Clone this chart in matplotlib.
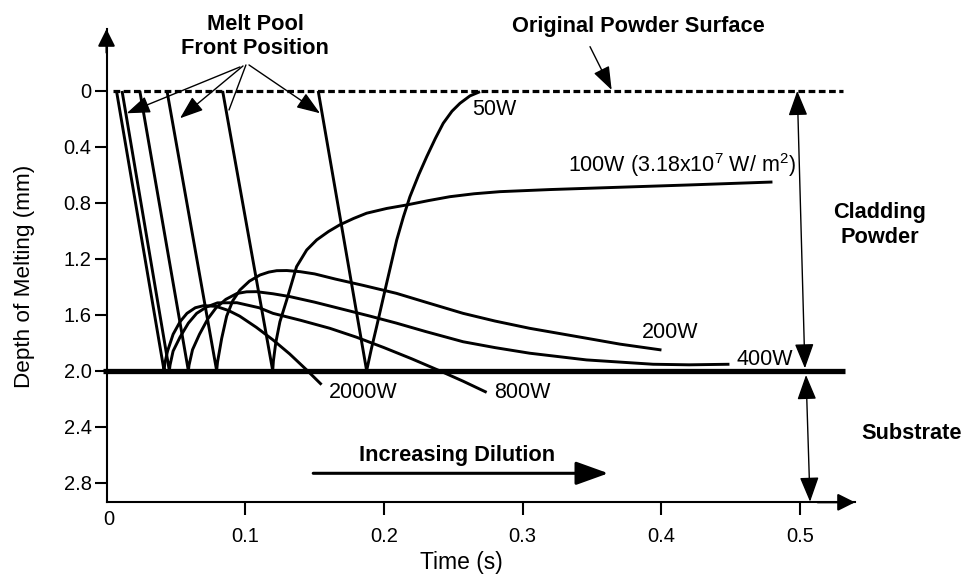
import matplotlib
matplotlib.use('Agg')
import matplotlib.pyplot as plt

plt.rcParams['font.family'] = ['Liberation Sans', 'DejaVu Sans']
plt.rcParams['mathtext.fontset'] = 'custom'
plt.rcParams['mathtext.rm'] = 'Liberation Sans'
plt.rcParams['mathtext.it'] = 'Liberation Sans:italic'
plt.rcParams['mathtext.bf'] = 'Liberation Sans:bold'

# ---------------- data ----------------
powers = ['2000W', '800W', '400W', '200W', '100W', '50W']
surface_depth = 0.0      # original powder surface (mm)
substrate_depth = 2.0    # powder / substrate interface (mm)

# time at which the melt front leaves the surface (depth 0)
front_start_t = [0.0072, 0.0112, 0.0240, 0.0436, 0.0837, 0.1526]

# solidification curves (first point = melt front reaching the substrate)
t_2000 = [0.0415, 0.0420, 0.0440, 0.0480, 0.0530, 0.0580, 0.0640, 0.0700, 0.0790,
          0.0880, 0.0960, 0.1080, 0.1200, 0.1320, 0.1443, 0.1550]
d_2000 = [2.00, 1.95, 1.86, 1.74, 1.65, 1.59, 1.55, 1.535, 1.54,
          1.57, 1.61, 1.69, 1.78, 1.88, 1.995, 2.10]

t_800 = [0.0453, 0.0458, 0.0480, 0.0530, 0.0590, 0.0650, 0.0720, 0.0800, 0.0940, 0.1100,
         0.1200, 0.1400, 0.1610, 0.1800, 0.2000, 0.2200, 0.2400, 0.2570, 0.2740]
d_800 = [2.00, 1.96, 1.86, 1.76, 1.66, 1.59, 1.545, 1.515, 1.514, 1.55,
         1.59, 1.64, 1.697, 1.76, 1.835, 1.915, 2.00, 2.075, 2.155]

t_400 = [0.0590, 0.0595, 0.0620, 0.0670, 0.0730, 0.0790, 0.0860, 0.0940, 0.1010, 0.1080,
         0.1200, 0.1320, 0.1500, 0.1680, 0.1900, 0.2090, 0.2300, 0.2570, 0.2800, 0.3050,
         0.3460, 0.3940, 0.4200, 0.4490]
d_400 = [2.00, 1.96, 1.85, 1.74, 1.63, 1.55, 1.49, 1.448, 1.436, 1.435,
         1.45, 1.47, 1.51, 1.555, 1.61, 1.66, 1.72, 1.793, 1.835, 1.875,
         1.923, 1.954, 1.958, 1.954]

t_200 = [0.0794, 0.0800, 0.0830, 0.0866, 0.0910, 0.0962, 0.1030, 0.1106, 0.1170, 0.1227,
         0.1300, 0.1395, 0.1500, 0.1650, 0.1850, 0.2090, 0.2300, 0.2570, 0.2800, 0.3050,
         0.3460, 0.3700, 0.4000]
d_200 = [2.00, 1.94, 1.77, 1.61, 1.50, 1.423, 1.36, 1.316, 1.295, 1.285,
         1.284, 1.292, 1.308, 1.345, 1.39, 1.447, 1.51, 1.59, 1.645, 1.697,
         1.768, 1.81, 1.852]

t_100 = [0.1198, 0.1203, 0.1220, 0.1250, 0.1299, 0.1370, 0.1443, 0.1515, 0.1600, 0.1680,
         0.1780, 0.1875, 0.2020, 0.2164, 0.2320, 0.2475, 0.2650, 0.2836, 0.3196, 0.3650,
         0.4200, 0.4800]
d_100 = [2.00, 1.93, 1.80, 1.65, 1.494, 1.256, 1.137, 1.065, 1.005, 0.958,
         0.912, 0.874, 0.84, 0.815, 0.784, 0.756, 0.735, 0.72, 0.705, 0.69,
         0.672, 0.651]

t_50 = [0.1875, 0.1910, 0.1947, 0.2019, 0.2092, 0.2140, 0.2187, 0.2250, 0.2308, 0.2370,
        0.2427, 0.2490, 0.2548, 0.2620, 0.2692]
d_50 = [2.00, 1.84, 1.685, 1.375, 1.065, 0.90, 0.756, 0.60, 0.47, 0.34,
        0.231, 0.145, 0.088, 0.035, 0.005]

curve_t = [t_2000, t_800, t_400, t_200, t_100, t_50]
curve_d = [d_2000, d_800, d_400, d_200, d_100, d_50]

xticks = [0.1, 0.2, 0.3, 0.4, 0.5]
xticklabels = ['0.1', '0.2', '0.3', '0.4', '0.5']
yticks = [0, 0.4, 0.8, 1.2, 1.6, 2.0, 2.4, 2.8]
yticklabels = ['0', '0.4', '0.8', '1.2', '1.6', '2.0', '2.4', '2.8']

# ---------------- figure ----------------
W, H = 963, 574
fig = plt.figure(figsize=(W / 100, H / 100), dpi=100)
ax = fig.add_axes([106.5 / W, (H - 502.3) / H, (855 - 106.5) / W, (502.3 - 29) / H])
ax.set_xlim(0, 0.5395)
ax.set_ylim(2.941, -0.443)
ax.patch.set_alpha(0)

for s in ['top', 'right']:
    ax.spines[s].set_visible(False)
for s in ['left', 'bottom']:
    ax.spines[s].set_linewidth(1.5)

ax.set_xticks(xticks)
ax.set_xticklabels(xticklabels)
ax.set_yticks(yticks)
ax.set_yticklabels(yticklabels)
ax.tick_params(axis='y', direction='out', length=8.8, width=1.5, pad=2, labelsize=14.5)
ax.tick_params(axis='x', direction='out', length=9.5, width=1.5, pad=8, labelsize=14.5)
ax.text(0.0018, 3.065, '0', ha='center', va='center', fontsize=14.5)

ax.set_xlabel('Time (s)', fontsize=16.5, va='center')
ax.xaxis.set_label_coords(0.4746, -0.1276)
ax.set_ylabel('Depth of Melting (mm)', fontsize=16.2, va='center')
ax.yaxis.set_label_coords(-0.109, 0.4767)

# axis arrow heads
ah = dict(arrowstyle='-|>,head_length=0.4,head_width=0.2', mutation_scale=26,
          lw=1.5, color='k', shrinkA=0, shrinkB=0)
ax.annotate('', xy=(0, 1), xytext=(0, 0.95), xycoords='axes fraction',
            arrowprops=ah, annotation_clip=False)
ax.annotate('', xy=(1, 0), xytext=(0.95, 0), xycoords='axes fraction',
            arrowprops=ah, annotation_clip=False)

# surface and substrate lines
ax.hlines(surface_depth, 0.005, 0.531, colors='k', lw=2.3,
          linestyles=(0, (2.1, 1.1)), clip_on=False, zorder=3)
ax.hlines(substrate_depth, -0.0025, 0.532, colors='k', lw=3.8, clip_on=False, zorder=3)

# melt front + solidification curves
for i in range(len(powers)):
    t = [front_start_t[i]] + curve_t[i]
    d = [surface_depth] + curve_d[i]
    ax.plot(t, d, color='k', lw=2.1, solid_capstyle='butt', zorder=4)

# power labels
lab_fs = 15.5
ax.text(0.1606, 2.157, powers[0], ha='left', va='center', fontsize=lab_fs)
ax.text(0.2793, 2.157, powers[1], ha='left', va='center', fontsize=lab_fs)
ax.text(0.4542, 1.923, powers[2], ha='left', va='center', fontsize=lab_fs)
ax.text(0.3857, 1.725, powers[3], ha='left', va='center', fontsize=lab_fs)
ax.text(0.3328, 0.529, powers[4] + ' (3.18x10$^7$ W/ m$^2$)', ha='left', va='center', fontsize=lab_fs)
ax.text(0.2639, 0.131, powers[5], ha='left', va='center', fontsize=lab_fs)

# annotations
bold_fs = 15.7
ax.text(0.1070, -0.388, 'Melt Pool\nFront Position', ha='center', va='center',
        fontsize=bold_fs, fontweight='bold', linespacing=1.2)
thin = dict(arrowstyle='-|>,head_length=0.6,head_width=0.22', mutation_scale=24,
            lw=1.0, color='k', shrinkA=0, shrinkB=0)
ax.annotate('', xy=(0.01456, 0.1595), xytext=(0.0962, -0.1716), arrowprops=thin, annotation_clip=False)
ax.annotate('', xy=(0.0530, 0.1952), xytext=(0.0984, -0.1788), arrowprops=thin, annotation_clip=False)
ax.annotate('', xy=(0.0883, 0.1359), xytext=(0.1005, -0.1859),
            arrowprops=dict(arrowstyle='-', lw=1.0, color='k', shrinkA=0, shrinkB=0),
            annotation_clip=False)
ax.annotate('', xy=(0.1539, 0.1595), xytext=(0.1027, -0.1859), arrowprops=thin, annotation_clip=False)

ax.text(0.3831, -0.4598, 'Original Powder Surface', ha='center', va='center',
        fontsize=bold_fs, fontweight='bold')
ax.annotate('', xy=(0.3641, -0.0072), xytext=(0.3485, -0.3168), arrowprops=thin, annotation_clip=False)

dbl = dict(arrowstyle='<|-|>,head_length=0.7,head_width=0.27', mutation_scale=22,
           lw=1.0, color='k', shrinkA=0, shrinkB=0)
ax.annotate('', xy=(0.5034, 1.983), xytext=(0.4979, 0.0), arrowprops=dbl, annotation_clip=False)
ax.annotate('', xy=(0.5071, 2.937), xytext=(0.5042, 2.0307), arrowprops=dbl, annotation_clip=False)
ax.text(0.5575, 0.958, 'Cladding\nPowder', ha='center', va='center',
        fontsize=bold_fs, fontweight='bold', linespacing=1.2)
ax.text(0.5438, 2.448, 'Substrate', ha='left', va='center',
        fontsize=bold_fs, fontweight='bold')

ax.text(0.2524, 2.603, 'Increasing Dilution', ha='center', va='center',
        fontsize=bold_fs, fontweight='bold')
ax.annotate('', xy=(0.3617, 2.7336), xytext=(0.149, 2.7336),
            arrowprops=dict(arrowstyle='-|>,head_length=0.5,head_width=0.18', mutation_scale=40,
                            lw=2.2, color='k', shrinkA=0, shrinkB=0),
            annotation_clip=False)

fig.savefig('out.png', dpi=100)
